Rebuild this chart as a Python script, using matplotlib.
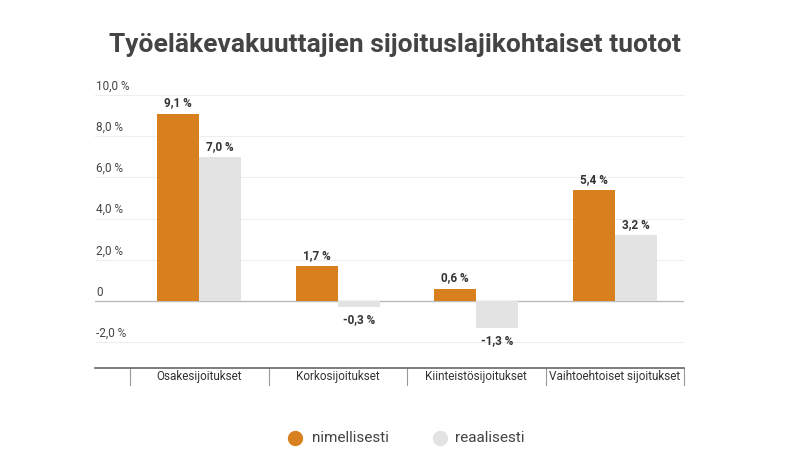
import matplotlib.pyplot as plt
from matplotlib.transforms import blended_transform_factory

categories = ['Osakesijoitukset', 'Korkosijoitukset', 'Kiinteistösijoitukset', 'Vaihtoehtoiset sijoitukset']
nimellisesti = [9.1, 1.7, 0.6, 5.4]
reaalisesti = [7.0, -0.3, -1.3, 3.2]
yticks = [-2, 0, 2, 4, 6, 8, 10]
ytick_labels = ['-2,0 %', '0', '2,0 %', '4,0 %', '6,0 %', '8,0 %', '10,0 %']

orange = '#d9801e'
grey = '#e3e3e3'
text_col = '#333333'

plt.rcParams['font.family'] = ['Roboto', 'DejaVu Sans']

W, H = 790, 462
fig = plt.figure(figsize=(W / 100, H / 100), dpi=100)
# axes placed in pixel positions
left, right, top, bottom = 95, 684, 89, 368
ax = fig.add_axes([left / W, 1 - bottom / H, (right - left) / W, (bottom - top) / H])

xs = list(range(len(categories)))
bw = 0.303
ax.bar([x - bw / 2 for x in xs], nimellisesti, bw, color=orange, zorder=3)
ax.bar([x + bw / 2 for x in xs], reaalisesti, bw, color=grey, zorder=3)

for x, v in zip(xs, nimellisesti):
    lab = ('%.1f %%' % v).replace('.', ',')
    ax.text(x - bw / 2, v + 0.2 if v >= 0 else v - 0.3, lab, ha='center',
            va='bottom' if v >= 0 else 'top', fontsize=8.5, fontweight='bold', color=text_col, zorder=4)
for x, v in zip(xs, reaalisesti):
    lab = ('%.1f %%' % v).replace('.', ',')
    ax.text(x + bw / 2, v + 0.2 if v >= 0 else v - 0.3, lab, ha='center',
            va='bottom' if v >= 0 else 'top', fontsize=8.5, fontweight='bold', color=text_col, zorder=4)

ax.set_xlim(-0.753, 3.5)
ax.set_ylim(-3.25, 10.29)

# gridlines and tick labels sitting above them
for t, lab in zip(yticks, ytick_labels):
    if t == 0:
        ax.axhline(t, color='#bbbbbb', lw=1.0, zorder=2)
    else:
        ax.axhline(t, color='#eeeeee', lw=0.8, zorder=1)
    ax.text(-0.745, t + 0.12, lab, ha='left', va='bottom', fontsize=8.5, color='#444444')

for s in ['top', 'right', 'left']:
    ax.spines[s].set_visible(False)
ax.spines['bottom'].set_color('#666666')
ax.spines['bottom'].set_linewidth(1.2)
ax.set_xticks([])
ax.set_yticks([])

# category band below the axis
tr = blended_transform_factory(ax.transData, ax.transAxes)
band = 17 / (bottom - top)
for sep in [-0.5, 0.5, 1.5, 2.5, 3.5]:
    ax.plot([sep, sep], [0, -band], color='#999999', lw=0.8, transform=tr, clip_on=False)
for x, c in zip(xs, categories):
    ax.text(x, -band / 2, c, ha='center', va='center', fontsize=8.5, color=text_col, transform=tr)

fig.text(0.5, 1 - 45 / H, 'Työeläkevakuuttajien sijoituslajikohtaiset tuotot', ha='center', va='center',
         fontsize=19, fontweight='bold', color='#444444')

# legend
ly = 1 - 438 / H
fig.lines.append(plt.Line2D([295 / W], [ly], marker='o', markersize=10, color=orange, transform=fig.transFigure))
fig.text(312 / W, ly, 'nimellisesti', ha='left', va='center', fontsize=11, color='#444444')
fig.lines.append(plt.Line2D([440 / W], [ly], marker='o', markersize=10, color=grey, transform=fig.transFigure))
fig.text(455 / W, ly, 'reaalisesti', ha='left', va='center', fontsize=11, color='#444444')

fig.savefig('out.png', dpi=100)
